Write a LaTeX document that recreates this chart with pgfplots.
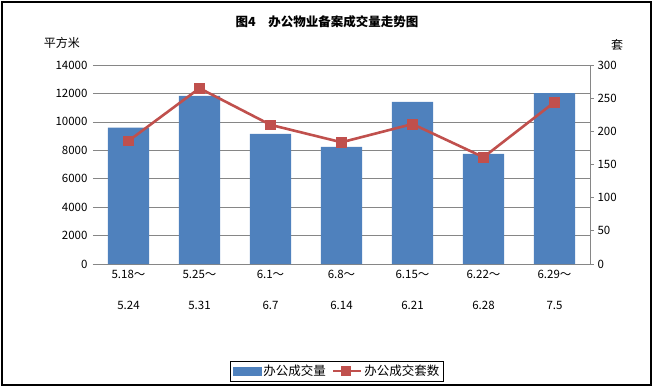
\documentclass[border=0pt]{standalone}
\usepackage{fontspec}
\setmainfont{Noto Sans CJK SC}
\usepackage{pgfplots}
\pgfplotsset{compat=1.18}
\definecolor{barblue}{HTML}{4F81BD}
\definecolor{linered}{HTML}{C0504D}
\definecolor{axgray}{HTML}{868686}
\begin{document}
\begin{tikzpicture}
\useasboundingbox (-93pt,-125pt) rectangle (561pt,264pt);
\draw[black, line width=1.2pt] (-91pt,-121pt) rectangle (558pt,262pt);
\begin{axis}[at={(0pt,0pt)}, anchor=south west, scale only axis,
  width=497pt, height=199pt,
  xmin=-0.5, xmax=6.5, ymin=0, ymax=14000,
  ytick={0,2000,...,14000},
  scaled y ticks=false,
  /pgf/number format/1000 sep={},
  /pgf/number format/assume math mode=true,
  axis x line*=bottom, axis y line*=left,
  y axis line style={draw=none},
  x axis line style={axgray, line width=0.8pt},
  ytick style={draw=none}, xtick style={draw=none},
  ymajorgrids, grid style={axgray, line width=0.6pt},
  xtick={0,...,6},
  xticklabels={{5.18～\\[18pt]5.24},{5.25～\\[18pt]5.31},{6.1～\\[18pt]6.7},{6.8～\\[18pt]6.14},{6.15～\\[18pt]6.21},{6.22～\\[18pt]6.28},{6.29～\\[18pt]7.5}},
  xticklabel style={align=center, font=\fontsize{11.5}{13}\selectfont, anchor=north, yshift=-3pt},
  yticklabel style={font=\fontsize{11.5}{13}\selectfont, xshift=-2pt},
]
\addplot[ybar, bar width=0.58, fill=barblue, draw=none] coordinates {
(0,9600) (1,11830) (2,9150) (3,8240) (4,11410) (5,7740) (6,12020)};
\end{axis}
\begin{axis}[at={(0pt,0pt)}, anchor=south west, scale only axis,
  width=497pt, height=199pt,
  xmin=-0.5, xmax=6.5, ymin=0, ymax=300,
  ytick={0,50,...,300},
  /pgf/number format/assume math mode=true,
  hide x axis, axis y line*=right,
  y axis line style={axgray, line width=0.8pt},
  ytick style={axgray, line width=0.8pt}, ytick align=outside, major tick length=4pt,
  yticklabel style={font=\fontsize{11.5}{13}\selectfont},
  legend style={at={(0.491,-0.538)}, anchor=center, draw=black, line width=0.8pt,
    font=\fontsize{12.5}{14}\selectfont, legend columns=2, inner sep=2pt,
    /tikz/every even column/.append style={column sep=4pt}},
  legend cell align=left,
]
\addlegendimage{legend image code/.code={\fill[barblue] (0pt,-4pt) rectangle (28pt,4pt);}}
\addlegendentry{办公成交量}
\addplot[linered, line width=2.6pt, mark=square*, mark size=4.8pt, mark options={solid, line width=0.6pt},
  legend image code/.code={\draw[linered, line width=2.6pt] (0pt,0pt) -- (28pt,0pt);
    \fill[linered] (9pt,-4pt) rectangle (17pt,4pt);}] coordinates {
(0,185.6) (1,265) (2,209.8) (3,183.5) (4,211) (5,161) (6,244)};
\addlegendentry{办公成交套数}
\end{axis}
\node[font=\bfseries\fontsize{12.5}{14}\selectfont] at (234pt,242pt) {图4\quad 办公物业备案成交量走势图};
\node[font=\fontsize{12}{14}\selectfont] at (-31pt,221pt) {平方米};
\node[font=\fontsize{12}{14}\selectfont] at (524pt,219pt) {套};
\end{tikzpicture}
\end{document}
